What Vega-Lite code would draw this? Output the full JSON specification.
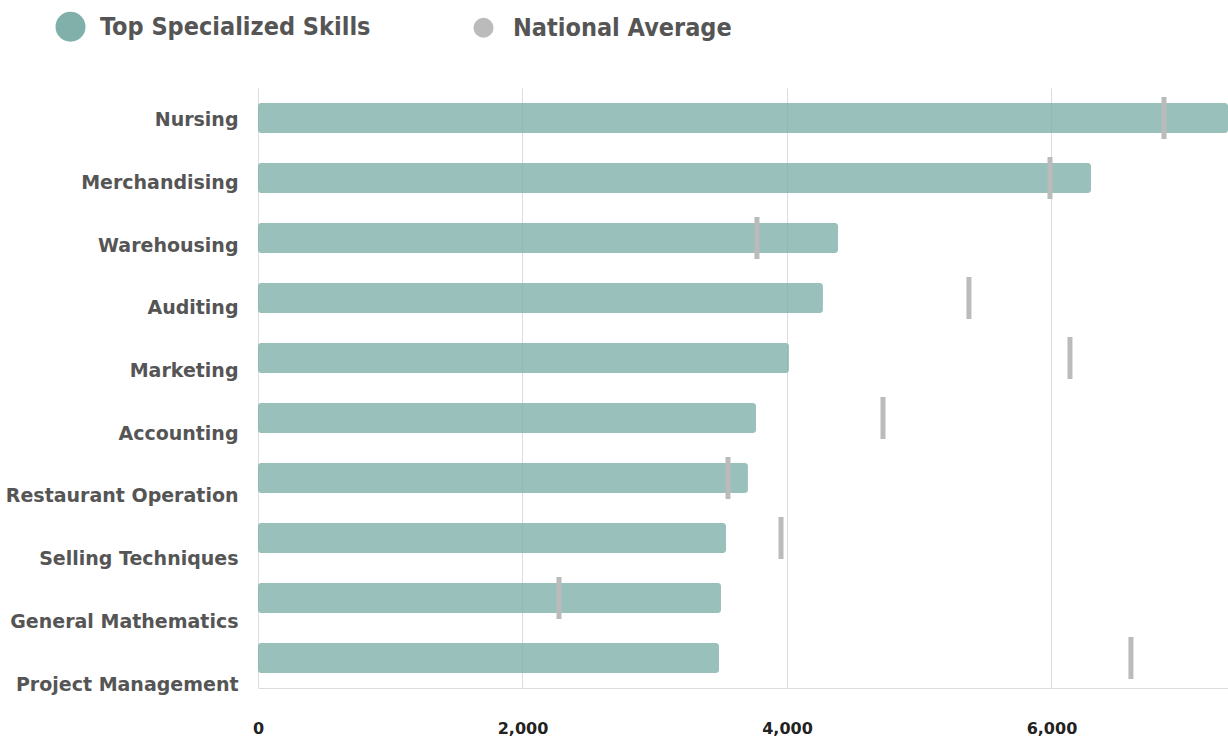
{
  "$schema": "https://vega.github.io/schema/vega-lite/v6.json",
  "width": 970,
  "height": 600,
  "autosize": {"type": "none"},
  "padding": {"left": 258, "top": 88, "right": 0, "bottom": 51},
  "background": "white",
  "config": {"view": {"stroke": null}},
  "data": {
    "values": [
      {"skill": "Nursing", "value": 7335, "nat": 6851},
      {"skill": "Merchandising", "value": 6299, "nat": 5989},
      {"skill": "Warehousing", "value": 4386, "nat": 3773},
      {"skill": "Auditing", "value": 4272, "nat": 5376},
      {"skill": "Marketing", "value": 4015, "nat": 6140},
      {"skill": "Accounting", "value": 3766, "nat": 4726},
      {"skill": "Restaurant Operation", "value": 3705, "nat": 3554},
      {"skill": "Selling Techniques", "value": 3539, "nat": 3955},
      {"skill": "General Mathematics", "value": 3501, "nat": 2276},
      {"skill": "Project Management", "value": 3486, "nat": 6601}
    ]
  },
  "resolve": {"scale": {"y": "independent"}, "axis": {"y": "independent"}},
  "layer": [
    {
      "layer": [
        {
          "mark": {"type": "bar", "cornerRadius": 3, "fillOpacity": 0.8},
          "encoding": {
            "y": {
              "field": "skill", "type": "nominal", "sort": null,
              "scale": {"paddingInner": 0.5, "paddingOuter": 0.25},
              "axis": null
            },
            "x": {
              "field": "value", "type": "quantitative",
              "scale": {"domain": [0, 7335], "nice": false},
              "axis": {
                "values": [0, 2000, 4000, 6000],
                "format": ",.0f",
                "labelFlush": false,
                "title": null,
                "ticks": false,
                "domainColor": "#dddddd",
                "gridColor": "#dddddd",
                "grid": true,
                "labelFont": "DejaVu Sans",
                "labelFontSize": 16,
                "labelFontWeight": "bold",
                "labelColor": "#222222",
                "labelPadding": 32
              }
            },
            "color": {
              "datum": "Top Specialized Skills",
              "type": "nominal",
              "scale": {
                "domain": ["Top Specialized Skills", "National  Average"],
                "range": ["#80b0a9", "#bbbbbb"]
              },
              "legend": {
                "title": null,
                "orient": "none",
                "direction": "horizontal",
                "legendX": -200,
                "legendY": -74,
                "symbolType": "circle",
                "symbolSize": 900,
                "symbolStrokeWidth": 0,
                "symbolOpacity": 1,
                "labelFont": "DejaVu Sans Condensed",
                "labelFontSize": 25,
                "labelFontWeight": "bold",
                "labelColor": "#555555",
                "labelOffset": 17,
                "columnPadding": 100,
                "labelLimit": 400,
                "encode": {
                  "symbols": {
                    "update": {
                      "size": {"signal": "datum.value === 'Top Specialized Skills' ? 900 : 400"},
                      "fillOpacity": {"value": 1},
                      "opacity": {"value": 1}
                    }
                  }
                }
              }
            }
          }
        },
        {
          "mark": {"type": "tick", "thickness": 5, "size": 42, "opacity": 1},
          "encoding": {
            "y": {"field": "skill", "type": "nominal", "sort": null},
            "x": {"field": "nat", "type": "quantitative"},
            "color": {"datum": "National  Average", "type": "nominal"}
          }
        }
      ]
    },
    {
      "mark": {"type": "point", "opacity": 0},
      "encoding": {
        "x": {"field": "nat", "type": "quantitative"},
        "y": {
          "field": "skill", "type": "nominal", "sort": null,
          "scale": {"type": "point", "padding": 0.287, "align": 0.889},
          "axis": {
            "orient": "left",
            "title": null,
            "ticks": false,
            "domain": false,
            "grid": false,
            "labelFont": "DejaVu Sans",
            "labelFontSize": 19,
            "labelFontWeight": "bold",
            "labelColor": "#555555",
            "labelPadding": 20,
            "labelLimit": 300
          }
        }
      }
    }
  ]
}
